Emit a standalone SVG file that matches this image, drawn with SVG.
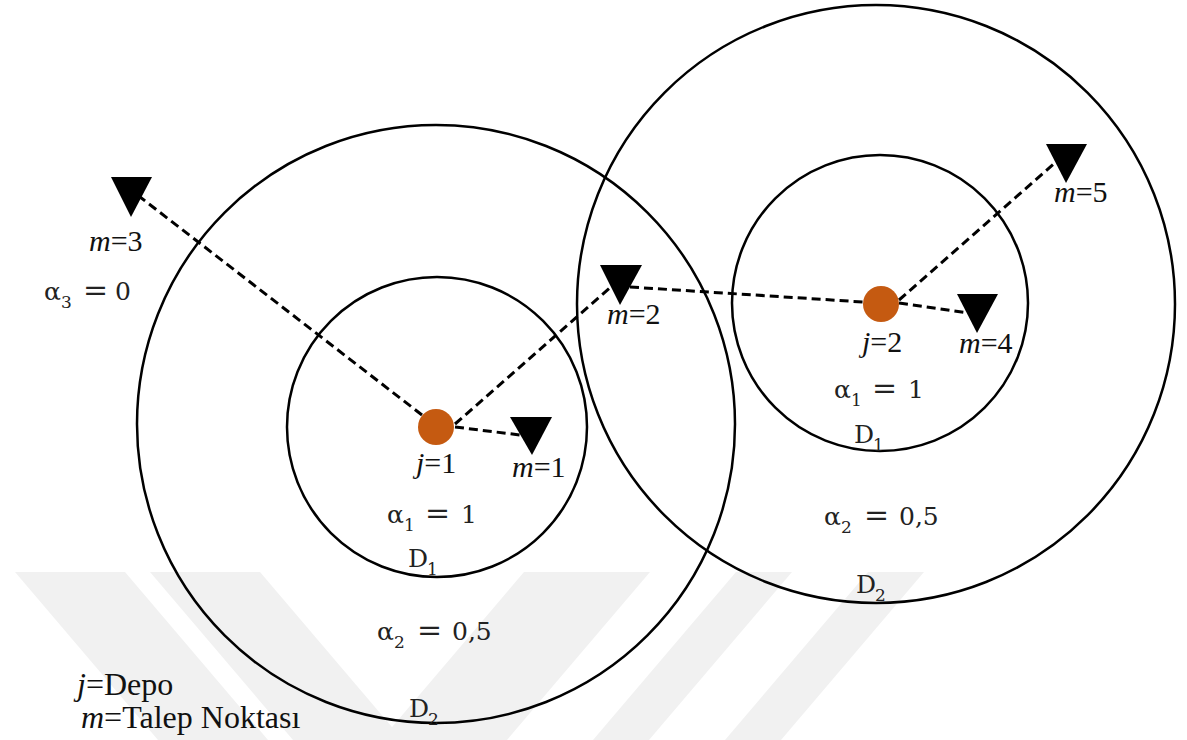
<svg xmlns="http://www.w3.org/2000/svg" width="1187" height="740" viewBox="0 0 1187 740">
<style>
.wm{fill:#F1F1F1;stroke:none}
.ring{fill:none;stroke:#000;stroke-width:2.5}
.dep{fill:#C55A11}
.tri{fill:#000}
.dash{fill:none;stroke:#000;stroke-width:3;stroke-dasharray:9 5}
.tm{font-family:'Liberation Serif','Times New Roman',Times,serif;font-size:30px;fill:#111}
.lg{font-size:32px}
.i{font-style:italic}
.s{font-size:17px}
.eq{font-size:30px}
</style>
<rect width="1187" height="740" fill="#fff"/>
<g id="watermark">
<polygon class="wm" points="15,572 125,572 268,740 158,740"/>
<polygon class="wm" points="150,572 260,572 403,740 293,740"/>
<polygon class="wm" points="524,572 650,572 507,740 381,740"/>
<polygon class="wm" points="736,572 792,572 649,740 593,740"/>
<polygon class="wm" points="868,572 924,572 781,740 725,740"/>
</g>
<g id="rings">
<circle class="ring" cx="436" cy="424" r="299"/>
<circle class="ring" cx="437" cy="427" r="150"/>
<circle class="ring" cx="876" cy="304" r="299"/>
<circle class="ring" cx="880" cy="303" r="148"/>
</g>
<g id="connectors">
<line class="dash" x1="422" y1="415" x2="140" y2="197"/>
<line class="dash" x1="455" y1="424" x2="612" y2="286"/>
<line class="dash" x1="455" y1="427" x2="520" y2="435"/>
<line class="dash" x1="630" y1="287" x2="863" y2="302"/>
<line class="dash" x1="899" y1="303" x2="968" y2="313"/>
<line class="dash" x1="899" y1="300" x2="1057" y2="161"/>
</g>
<g id="depot1"><circle class="dep" cx="436" cy="427" r="18"/><text class="tm" x="416" y="473"><tspan class="i">j</tspan>=1</text></g>
<g id="depot2"><circle class="dep" cx="881" cy="304" r="18"/><text class="tm" x="862" y="352"><tspan class="i">j</tspan>=2</text></g>
<g id="m1"><polygon class="tri" points="510,417 552,417 532,455"/><text class="tm" x="512" y="477"><tspan class="i">m</tspan>=1</text></g>
<g id="m2"><polygon class="tri" points="600,265 642,265 620,305"/><text class="tm" x="607" y="324"><tspan class="i">m</tspan>=2</text></g>
<g id="m3"><polygon class="tri" points="111,177 152,177 131,217"/><text class="tm" x="89" y="251"><tspan class="i">m</tspan>=3</text></g>
<g id="m4"><polygon class="tri" points="957,294 998,294 977,333"/><text class="tm" x="959" y="353"><tspan class="i">m</tspan>=4</text></g>
<g id="m5"><polygon class="tri" points="1046,144 1087,144 1066,183"/><text class="tm" x="1054" y="202"><tspan class="i">m</tspan>=5</text></g>
<g id="legend">
<text class="tm lg" x="77" y="695"><tspan class="i">j</tspan>=Depo</text>
<text class="tm lg" x="81" y="728"><tspan class="i">m</tspan>=Talep Noktası</text>
</g>
<g id="labels" font-family="DejaVu Serif, serif" font-size="25" fill="#222">
<text y="300"><tspan x="44">α</tspan><tspan class="s" x="61" dy="8">3</tspan><tspan class="eq" x="83" dy="-8">=</tspan><tspan x="115">0</tspan></text>
<text y="523"><tspan x="387">α</tspan><tspan class="s" x="404" dy="8">1</tspan><tspan class="eq" x="425" dy="-8">=</tspan><tspan x="461">1</tspan></text>
<text y="640"><tspan x="377">α</tspan><tspan class="s" x="394" dy="8">2</tspan><tspan class="eq" x="417" dy="-8">=</tspan><tspan x="452">0,5</tspan></text>
<text y="398"><tspan x="834">α</tspan><tspan class="s" x="851" dy="8">1</tspan><tspan class="eq" x="872" dy="-8">=</tspan><tspan x="908">1</tspan></text>
<text y="525"><tspan x="824">α</tspan><tspan class="s" x="841" dy="8">2</tspan><tspan class="eq" x="864" dy="-8">=</tspan><tspan x="899">0,5</tspan></text>
<text y="567"><tspan x="408">D</tspan><tspan class="s" x="427" dy="8">1</tspan></text>
<text y="443"><tspan x="854">D</tspan><tspan class="s" x="873" dy="8">1</tspan></text>
<text y="717"><tspan x="409">D</tspan><tspan class="s" x="428" dy="8">2</tspan></text>
<text y="593"><tspan x="856">D</tspan><tspan class="s" x="875" dy="8">2</tspan></text>
</g>
</svg>
